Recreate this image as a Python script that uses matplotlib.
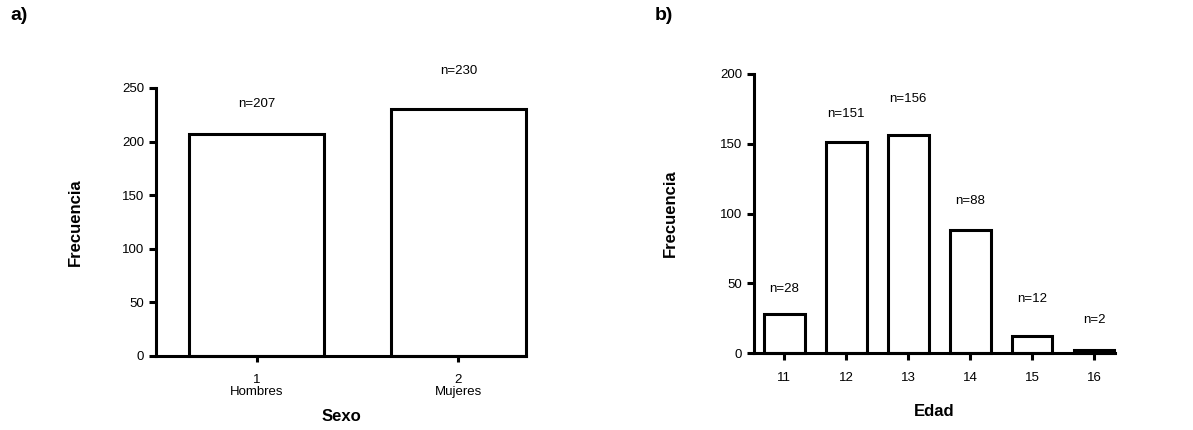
import matplotlib
matplotlib.use("Agg")
import matplotlib.pyplot as plt

plt.rcParams['font.family'] = ['Liberation Sans', 'DejaVu Sans']

# Data
sexo_pos = [1, 2]
sexo_labels = ["1\nHombres", "2\nMujeres"]
sexo_freq = [207, 230]

edad = [11, 12, 13, 14, 15, 16]
edad_freq = [28, 151, 156, 88, 12, 2]

# label offsets above bars (points) - style only
sexo_off = [22, 28]
edad_off = [18, 20.5, 26, 21, 27, 22]

W, H = 1193, 430
fig = plt.figure(figsize=(W / 100, H / 100), dpi=100)

lw = 2.2

def style(ax):
    for s in ['top', 'right']:
        ax.spines[s].set_visible(False)
    for s in ['left', 'bottom']:
        ax.spines[s].set_linewidth(lw)
    ax.tick_params(axis='both', width=lw, length=5, labelsize=9.5, direction='out')

# Panel a
ax1 = fig.add_axes([156 / W, 1 - 356 / H, (526 - 156) / W, (356 - 88) / H])
bars1 = ax1.bar(sexo_pos, sexo_freq, width=0.67, facecolor='white', edgecolor='black', linewidth=lw)
for b in bars1:
    b.set_clip_on(False)
ax1.set_xlim(0.5, 2.335)
ax1.set_ylim(0, 250)
ax1.set_yticks([0, 50, 100, 150, 200, 250])
ax1.set_xticks(sexo_pos)
ax1.set_xticklabels(sexo_labels, linespacing=1.0)
style(ax1)
ax1.tick_params(axis='x', labelsize=9.5, pad=9, length=4)
ax1.set_ylabel("Frecuencia", fontsize=12, fontweight='bold', labelpad=28)
ax1.set_xlabel("Sexo", fontsize=12, fontweight='bold', labelpad=8)
for x, v, o in zip(sexo_pos, sexo_freq, sexo_off):
    ax1.annotate(f"n={v}", (x, v), xytext=(0, o), textcoords='offset points',
                 ha='center', va='center', fontsize=9.5)
fig.text(10 / W, 1 - 16 / H, "a)", fontsize=14, fontweight='bold', va='center', ha='left')

# Panel b
ax2 = fig.add_axes([754 / W, 1 - 353 / H, (1115 - 754) / W, (353 - 74) / H])
bars2 = ax2.bar(edad, edad_freq, width=0.66, facecolor='white', edgecolor='black', linewidth=lw)
for b in bars2:
    b.set_clip_on(False)
ax2.set_xlim(10.51, 16.34)
ax2.set_ylim(0, 200)
ax2.set_yticks([0, 50, 100, 150, 200])
ax2.set_xticks(edad)
style(ax2)
ax2.tick_params(axis='x', pad=9)
ax2.set_ylabel("Frecuencia", fontsize=12, fontweight='bold', labelpad=30)
ax2.set_xlabel("Edad", fontsize=12, fontweight='bold', labelpad=14)
for x, v, o in zip(edad, edad_freq, edad_off):
    ax2.annotate(f"n={v}", (x, v), xytext=(0, o), textcoords='offset points',
                 ha='center', va='center', fontsize=9.5)
fig.text(655 / W, 1 - 16 / H, "b)", fontsize=14, fontweight='bold', va='center', ha='left')

fig.savefig("out.png", dpi=100, facecolor='white')
